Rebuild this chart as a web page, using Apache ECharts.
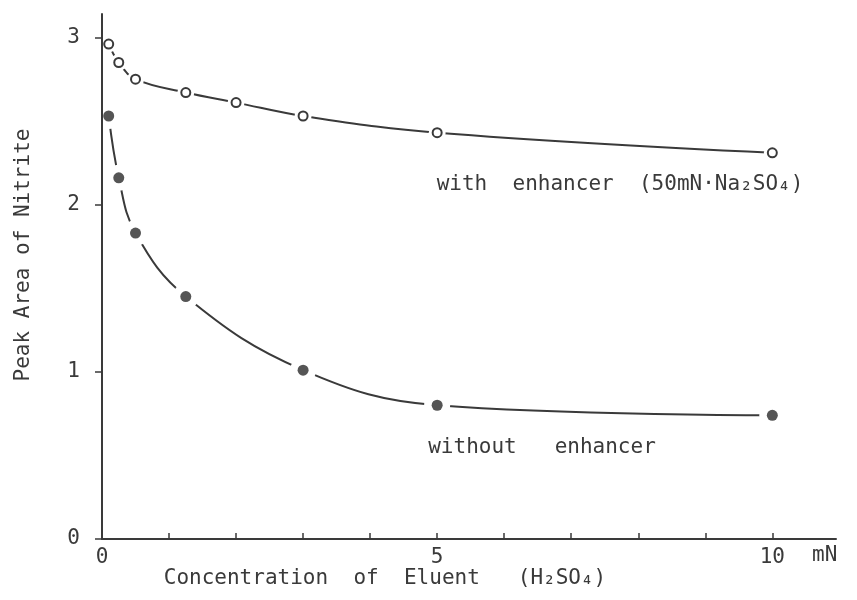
<!DOCTYPE html>
<html>
<head>
<meta charset="utf-8">
<script src="https://cdn.jsdelivr.net/npm/echarts@6/dist/echarts.min.js"></script>
<style>
  html, body { margin: 0; padding: 0; background: #fff; }
  #chart { width: 857px; height: 600px; }
</style>
</head>
<body>
<div id="chart"></div>
<script>
// concentration of eluent, mN
var withX = [0.1, 0.25, 0.5, 1.25, 2, 3, 5, 10];
var withY = [2.96, 2.85, 2.75, 2.67, 2.61, 2.53, 2.43, 2.31];
var withoutX = [0.1, 0.25, 0.5, 1.25, 3, 5, 10];
var withoutY = [2.53, 2.16, 1.83, 1.45, 1.01, 0.80, 0.74];
var xTicks = [1, 2, 3, 4, 5, 6, 7, 8, 9, 10];
var xLabels = [0, 5, 10];
var yLabels = [0, 1, 2, 3];

var ink = '#3a3a3a';
var font = '"DejaVu Sans Mono", monospace';

function pairs(xs, ys) {
    return xs.map(function (x, i) { return [x, ys[i]]; });
}
var withData = pairs(withX, withY);
var withoutData = pairs(withoutX, withoutY);

// curves go on the bottom layer, white discs on the layer above cut them open round each point
function curve(data) {
    return {
        type: 'line', data: data, smooth: 0.4, zlevel: 0, z: 2, silent: true,
        showSymbol: false,
        lineStyle: { color: ink, width: 2 }
    };
}
function mask(data, size) {
    return {
        type: 'scatter', data: data, symbol: 'circle', symbolSize: size,
        zlevel: 1, z: 1, silent: true,
        itemStyle: { color: '#ffffff', opacity: 1 }
    };
}

var chart = echarts.init(document.getElementById('chart'));
chart.setOption({
    animation: false,
    grid: { left: 102, right: 21, top: 14, bottom: 61, containLabel: false },
    xAxis: {
        type: 'value', min: 0, max: 10.95, zlevel: 1, z: 5,
        splitLine: { show: false },
        axisLine: { lineStyle: { color: ink, width: 2 } },
        axisTick: { inside: true, length: 6, customValues: xTicks, lineStyle: { color: ink, width: 1.5 } },
        axisLabel: { customValues: xLabels, margin: 8, color: ink, fontFamily: font, fontSize: 21 }
    },
    yAxis: {
        type: 'value', min: 0, max: 3.14, zlevel: 1, z: 5,
        splitLine: { show: false },
        axisLine: { lineStyle: { color: ink, width: 2 } },
        axisTick: { length: 7, customValues: yLabels, lineStyle: { color: ink, width: 1.5 } },
        axisLabel: { customValues: yLabels, margin: 22, color: ink, fontFamily: font, fontSize: 21 }
    },
    series: [
        curve(withData),
        curve(withoutData),
        mask(withData, 17),
        mask(withoutData, 26),
        {
            type: 'scatter', data: withData, symbol: 'circle', symbolSize: 9, zlevel: 1, z: 6,
            itemStyle: { color: '#fff', borderColor: ink, borderWidth: 2, opacity: 1 }
        },
        {
            type: 'scatter', data: withoutData, symbol: 'circle', symbolSize: 11, zlevel: 1, z: 6,
            itemStyle: { color: '#555', opacity: 1 }
        }
    ],
    graphic: [
        {
            type: 'text', left: 812, top: 545,
            style: { text: 'mN', fill: ink, font: '21px ' + font }
        },
        {
            type: 'text', x: 385, y: 579,
            style: { text: 'Concentration  of  Eluent   (H₂SO₄)', fill: ink, font: '21px ' + font,
                     align: 'center', verticalAlign: 'middle' }
        },
        {
            type: 'text', x: 24, y: 255, rotation: Math.PI / 2,
            style: { text: 'Peak Area of Nitrite', fill: ink, font: '21px ' + font,
                     align: 'center', verticalAlign: 'middle' }
        },
        {
            type: 'text', x: 620, y: 185,
            style: { text: 'with  enhancer  (50mN·Na₂SO₄)', fill: ink, font: '21px ' + font,
                     align: 'center', verticalAlign: 'middle' }
        },
        {
            type: 'text', x: 542, y: 448,
            style: { text: 'without   enhancer', fill: ink, font: '21px ' + font,
                     align: 'center', verticalAlign: 'middle' }
        }
    ]
});
</script>
</body>
</html>
